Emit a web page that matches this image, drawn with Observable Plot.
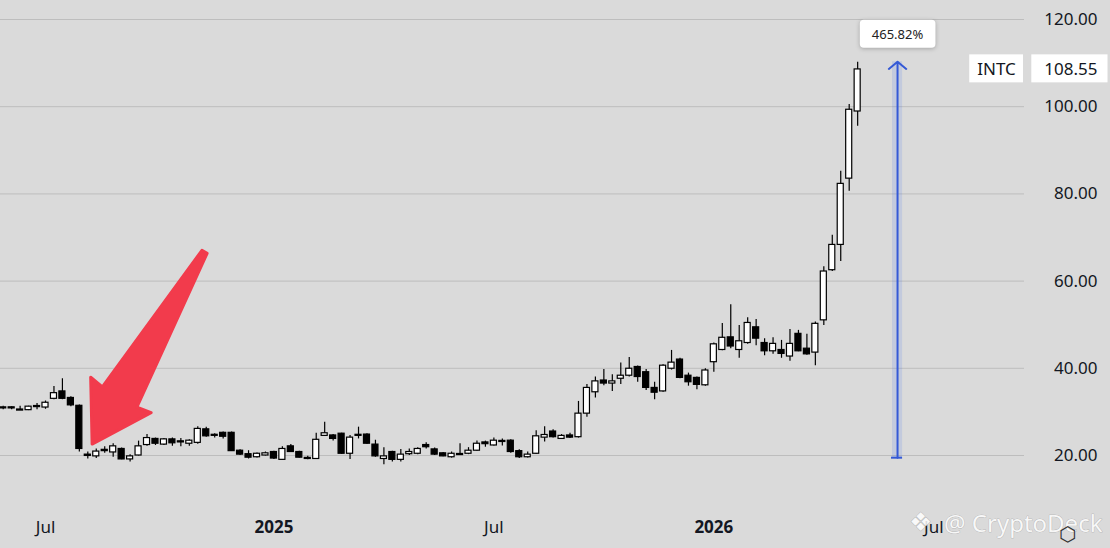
<!DOCTYPE html>
<html><head><meta charset="utf-8">
<script src="https://cdn.jsdelivr.net/npm/d3@7"></script>
<script src="https://cdn.jsdelivr.net/npm/@observablehq/plot@0.6"></script>
<style>
html,body{margin:0;padding:0;background:#dadada;}
#chart{width:1110px;height:548px;overflow:hidden;}
</style></head><body><div id="chart"></div>
<script>
// Weekly INTC candles, first bar week of 2024-05-27
const weekStart = "2024-05-27";
const opens = [30.8,30.9,30.3,30.4,31.1,31.0,33.0,34.7,33.2,31.4,20.2,19.8,21.3,20.7,21.5,19.1,20.0,22.4,23.8,22.5,23.7,23.1,22.7,22.9,26.0,24.5,25.2,25.2,21.1,20.3,19.6,20.0,20.8,19.0,22.1,20.8,19.3,19.2,24.5,24.6,25.0,20.4,24.7,24.8,22.5,19.2,20.8,19.0,20.3,20.4,22.4,21.4,20.5,19.6,20.1,20.4,21.1,23.0,22.3,23.1,23.4,21.0,19.6,20.4,24.1,25.5,23.8,24.6,24.2,29.6,34.5,37.2,36.5,37.6,38.3,40.3,39.1,35.5,34.7,39.9,42.0,38.3,37.8,36.1,41.4,44.2,47.1,44.2,45.8,49.4,45.8,43.9,44.2,42.7,47.9,44.5,43.6,51.0,62.5,68.3,83.5,98.9];
const highs = [31.3,31.2,31.3,31.3,31.9,32.5,35.8,37.6,33.5,31.6,20.8,21.5,22.0,22.7,21.7,20.2,23.3,24.8,24.0,23.9,24.0,23.9,23.6,26.6,26.5,25.0,25.4,25.4,21.3,21.1,20.6,20.8,21.0,22.0,22.5,21.0,19.8,25.1,27.6,24.8,25.1,24.6,26.5,25.0,23.5,21.8,21.0,21.4,21.5,21.8,22.9,21.7,20.7,20.8,22.7,21.8,23.3,23.3,24.0,23.8,23.6,21.3,20.8,25.7,26.6,25.9,24.8,25.1,32.4,36.3,38.0,39.7,38.5,41.2,42.5,40.5,39.7,36.8,40.8,44.1,42.3,38.9,38.0,39.9,45.8,50.3,54.6,49.8,51.6,51.2,46.8,47.0,46.4,48.9,48.7,47.8,50.6,63.3,70.5,85.2,100.5,110.2];
const lows = [30.5,30.5,30.3,30.3,30.5,30.6,32.8,32.8,31.2,20.8,19.2,19.3,20.5,19.6,19.0,18.5,19.9,22.1,22.3,22.3,22.1,22.0,22.1,22.6,24.2,24.0,23.8,20.9,20.0,19.2,19.4,19.9,19.1,18.9,20.7,19.4,19.0,19.1,24.4,23.3,20.3,19.1,23.8,22.6,19.6,17.9,18.5,18.5,20.0,20.2,21.5,20.0,19.7,19.4,20.0,20.2,21.0,21.9,22.2,22.2,20.5,19.3,19.4,20.3,23.1,24.0,23.7,23.9,24.0,28.8,33.2,36.0,34.7,36.3,38.0,36.8,34.9,32.8,34.5,39.6,37.6,35.9,35.1,35.9,39.1,44.0,44.5,42.3,45.5,45.2,42.9,43.2,42.3,41.6,43.8,43.0,40.6,49.8,62.2,64.5,80.6,95.5];
const closes = [30.9,30.8,30.35,31.2,31.2,32.1,34.3,33.0,31.5,21.5,19.9,20.9,21.0,22.1,19.1,19.8,22.1,24.0,22.7,23.7,22.8,23.0,23.4,26.1,24.4,24.6,24.3,21.0,20.2,19.5,20.4,20.5,19.3,21.5,20.8,19.5,19.2,23.6,25.1,23.8,20.4,24.1,24.5,22.7,19.8,19.8,19.0,20.2,20.8,21.5,21.9,20.2,19.8,20.4,20.2,21.1,22.7,22.6,23.4,23.2,20.8,19.6,20.2,24.4,24.7,24.2,24.5,24.1,29.6,35.5,37.0,36.5,37.0,38.3,39.9,38.0,35.5,34.4,40.6,41.3,37.8,36.8,36.2,39.5,45.5,47.0,45.0,46.2,50.4,46.8,43.9,45.6,43.3,45.6,43.9,43.2,50.2,62.2,68.3,82.3,99.3,108.55];

const monthTickDates = ["2024-07-01","2025-07-07","2026-07-06"];
const monthTickLabels = ["Jul","Jul","Jul"];
const yearTickDates = ["2025-01-06","2026-01-05"];
const yearTickLabels = ["2025","2026"];
const priceTicks = [20,40,60,80,100,120];

const tickerName = "INTC";
const lastPrice = 108.55;

const measureDate = "2026-06-06";
const measureFrom = 19.5;
const measureTo = 110.33;
const measureLabel = "465.82%";

const arrowTipPoint = ["2024-08-09", 22.5];
const arrowTailPoint = ["2024-11-10", 66.6];

const watermark = "@ CryptoDeck";

const candles = opens.map((o, i) => ({
  date: d3.utcMonday.offset(new Date(weekStart), i),
  open: o, high: highs[i], low: lows[i], close: closes[i]
}));
const md = new Date(measureDate);
const fmt = d3.format(".2f");

const chart = Plot.plot({
  width: 1110, height: 548,
  marginLeft: 0, marginRight: 86, marginTop: 0, marginBottom: 0,
  style: {background: "#dadada", fontFamily: "'Noto Sans', sans-serif", color: "#131722"},
  x: {type: "utc", domain: [new Date("2024-07-01"), new Date("2026-07-06")], range: [45, 933.3], axis: null},
  y: {domain: [20, 120], range: [455, 19]},
  marks: [
    Plot.gridY(priceTicks, {stroke: "#bdbdbd", strokeOpacity: 1, strokeWidth: 1}),
    Plot.axisY(priceTicks, {anchor: "right", tickSize: 0, tickPadding: 0, dx: 73, textAnchor: "end",
      tickFormat: fmt, fontSize: 17, fill: "#131722", label: null}),
    // measure band
    Plot.rect([md], {x1: d => d3.utcHour.offset(d, -100), x2: d => d3.utcHour.offset(d, 100),
      y1: () => measureFrom, y2: () => measureTo, fill: "#4a74ec", fillOpacity: 0.16}),
    Plot.ruleY([measureFrom], {x1: () => d3.utcHour.offset(md, -120), x2: () => d3.utcHour.offset(md, 100), stroke: "#3459d6", strokeWidth: 2}),
    Plot.arrow([md], {x1: d => d, x2: d => d, y1: () => measureFrom, y2: () => measureTo,
      stroke: "#3459d6", strokeWidth: 2, headAngle: 100, headLength: 8.5}),
    // candles
    Plot.ruleX(candles, {x: "date", y1: "low", y2: "high", stroke: "#000", strokeWidth: 1.2}),
    Plot.rect(candles, {
      x1: d => d3.utcHour.offset(d.date, -60), x2: d => d3.utcHour.offset(d.date, 60),
      y1: d => Math.min(d.open, d.close),
      y2: d => Math.max(d.open, d.close, Math.min(d.open, d.close) + 0.25),
      fill: d => d.close >= d.open ? "#ffffff" : "#000000", stroke: "#000", strokeWidth: 1.2
    }),
    // x labels
    Plot.text(monthTickDates, {x: d => new Date(d), text: (d, i) => monthTickLabels[i], frameAnchor: "bottom",
      lineAnchor: "middle", dy: -21, fontSize: 17, fill: "#131722"}),
    Plot.text(yearTickDates, {x: d => new Date(d), text: (d, i) => yearTickLabels[i], frameAnchor: "bottom",
      lineAnchor: "middle", dy: -21, fontSize: 17, fontWeight: "bold", fill: "#131722"}),
    // measure label
    Plot.text([measureLabel], {x: () => md, y: () => measureTo, dy: -27, text: d => d, fontSize: 13,
      fill: "#222"}),
    // last price labels
    Plot.text([lastPrice], {y: d => d, text: d => fmt(d), frameAnchor: "right", dx: 73, textAnchor: "end",
      fontSize: 17, fill: "#131722"}),
    Plot.text([tickerName], {y: () => lastPrice, text: d => d, frameAnchor: "right", dx: -28, textAnchor: "middle",
      fontSize: 17, fill: "#131722"}),
    // watermark
    Plot.text([watermark], {frameAnchor: "bottom-right", dx: 78, dy: -24, textAnchor: "end", lineAnchor: "middle",
      fontSize: 24, fill: "#ffffff", fillOpacity: 0.85, stroke: "#a0a0a0", strokeWidth: 0.5}),
    Plot.text(["❖"], {frameAnchor: "bottom-right", dx: -104, dy: -26, textAnchor: "middle", lineAnchor: "middle",
      fontSize: 26, fill: "#ffffff", fillOpacity: 0.85, stroke: "#a0a0a0", strokeWidth: 0.5}),
    Plot.text(["⬡"], {frameAnchor: "bottom-right", dx: 43, dy: -14, textAnchor: "middle", lineAnchor: "middle",
      fontSize: 20, fill: "#333"})
  ]
});
document.getElementById("chart").append(chart);

const NS = "http://www.w3.org/2000/svg";
function boxBehind(content, padL, padR, padT, padB, rx, shadow) {
  Array.from(chart.querySelectorAll("text")).filter(t => t.textContent === content).forEach(t => {
    const b = t.getBBox();
    const r = document.createElementNS(NS, "rect");
    r.setAttribute("x", b.x - padL);
    r.setAttribute("y", b.y - padT);
    r.setAttribute("width", b.width + padL + padR);
    r.setAttribute("height", b.height + padT + padB);
    r.setAttribute("rx", rx);
    r.setAttribute("fill", "#ffffff");
    r.setAttribute("stroke", "none");
    if (t.getAttribute("transform")) r.setAttribute("transform", t.getAttribute("transform"));
    if (shadow) r.setAttribute("style", "filter:drop-shadow(0px 1px 2px rgba(0,0,0,0.25))");
    t.parentNode.insertBefore(r, t);
  });
}
boxBehind(measureLabel, 12, 12, 5, 5, 4, true);
boxBehind(fmt(lastPrice), 13, 10, 2.5, 2.5, 0, false);
boxBehind(tickerName, 8, 7, 2.5, 2.5, 0, false);

// red annotation arrow, placed through the plot's own scales
const sx = chart.scale("x"), sy = chart.scale("y");
const tip = [sx.apply(new Date(arrowTipPoint[0])), sy.apply(arrowTipPoint[1])];
const tail = [sx.apply(new Date(arrowTailPoint[0])), sy.apply(arrowTailPoint[1])];
const vx = tail[0] - tip[0], vy = tail[1] - tip[1];
const L = Math.hypot(vx, vy);
const ux = vx / L, uy = vy / L, px = -uy, py = ux;
const P = (a, b) => [tip[0] + ux * a + px * b, tip[1] + uy * a + py * b];
const pts = [P(0, 0), P(57, 35), P(54.5, 20), P(L, 3), P(L, -3), P(54.5, -20), P(57, -35)];
d3.select(chart).append("path")
  .attr("d", "M" + pts.map(p => p.join(",")).join("L") + "Z")
  .attr("fill", "#f23b4c").attr("stroke", "#f23b4c").attr("stroke-width", 3)
  .attr("stroke-linejoin", "round");
</script>
</body></html>
